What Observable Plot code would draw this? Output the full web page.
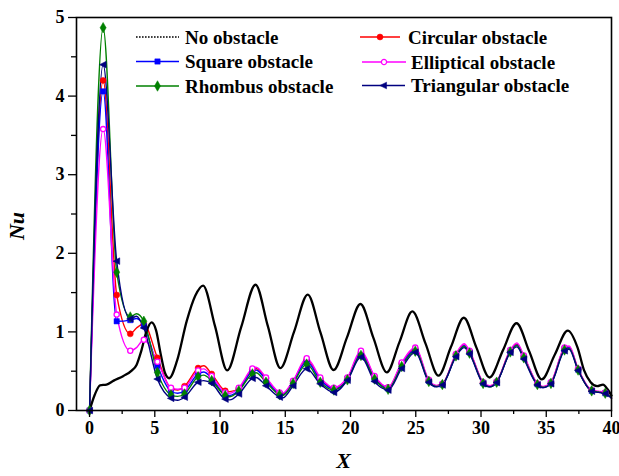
<!DOCTYPE html>
<html><head><meta charset="utf-8">
<script src="https://cdn.jsdelivr.net/npm/d3@7"></script>
<script src="https://cdn.jsdelivr.net/npm/@observablehq/plot@0.6"></script>
<style>body{margin:0;background:#fff}</style>
</head><body><div id="chart"></div>
<script>
// X positions for obstacle curves (markers + a few extrema between markers)
const colX = [0,1.04,2.08,3.12,3.6,4.16,5.2,6.24,6.75,7.28,8.32,8.75,9.36,10.4,10.75,11.44,12.48,12.75,13.52,14.56,14.8,15.6,16.64,17.68,18.72,19.76,20.8,21.84,22.88,23.92,24.96,26.0,26.6,27.04,28.08,28.7,29.12,30.16,30.65,31.2,32.24,32.75,33.28,34.32,34.75,35.36,36.4,36.75,37.44,38.48,39.0,39.52,40];
// X positions where markers are drawn
const markerX = [0,1.04,2.08,3.12,4.16,5.2,6.24,7.28,8.32,9.36,10.4,11.44,12.48,13.52,14.56,15.6,16.64,17.68,18.72,19.76,20.8,21.84,22.88,23.92,24.96,26.0,27.04,28.08,29.12,30.16,31.2,32.24,33.28,34.32,35.36,36.4,37.44,38.48,39.52];

const circularY   = [0,4.20,1.47,0.975,1.05,1.10,0.67,0.28,0.26,0.31,0.54,0.57,0.465,0.25,0.24,0.28,0.52,0.535,0.41,0.22,0.21,0.37,0.65,0.40,0.28,0.41,0.74,0.43,0.29,0.595,0.785,0.38,0.315,0.335,0.71,0.835,0.75,0.355,0.31,0.365,0.76,0.845,0.69,0.34,0.30,0.355,0.79,0.81,0.525,0.255,0.24,0.225,0.16];
const squareY     = [0,4.06,1.135,1.15,1.17,1.08,0.57,0.245,0.22,0.25,0.465,0.49,0.41,0.20,0.19,0.26,0.50,0.515,0.39,0.21,0.20,0.36,0.62,0.39,0.27,0.40,0.72,0.41,0.28,0.58,0.77,0.375,0.31,0.33,0.70,0.825,0.74,0.35,0.305,0.36,0.75,0.835,0.68,0.335,0.295,0.35,0.78,0.80,0.52,0.25,0.235,0.22,0.16];
const ellipticalY = [0,3.58,1.22,0.76,0.80,0.90,0.62,0.29,0.27,0.29,0.51,0.53,0.44,0.23,0.22,0.29,0.535,0.55,0.42,0.23,0.22,0.38,0.665,0.42,0.29,0.42,0.76,0.44,0.295,0.61,0.80,0.39,0.32,0.34,0.72,0.85,0.76,0.36,0.315,0.37,0.77,0.86,0.70,0.345,0.305,0.36,0.80,0.82,0.53,0.26,0.245,0.23,0.16];
const rhombusY    = [0,4.87,1.76,1.19,1.23,1.135,0.485,0.20,0.18,0.21,0.43,0.45,0.38,0.19,0.175,0.25,0.465,0.48,0.36,0.20,0.19,0.345,0.59,0.36,0.26,0.39,0.70,0.40,0.27,0.56,0.755,0.37,0.305,0.33,0.695,0.815,0.73,0.345,0.30,0.36,0.745,0.825,0.67,0.33,0.295,0.345,0.77,0.79,0.515,0.25,0.235,0.22,0.16];
const triangularY = [0,4.40,1.90,1.165,1.20,1.05,0.40,0.155,0.13,0.17,0.36,0.38,0.345,0.145,0.135,0.21,0.41,0.42,0.315,0.17,0.16,0.315,0.53,0.34,0.23,0.385,0.68,0.37,0.26,0.535,0.74,0.36,0.30,0.325,0.685,0.80,0.72,0.34,0.30,0.355,0.74,0.81,0.655,0.325,0.29,0.34,0.76,0.78,0.51,0.245,0.23,0.215,0.155];

// No obstacle curve
const blackX = [0,0.4,0.8,1.3,1.85,2.6,3.25,3.6,3.95,4.35,4.75,5.1,5.45,5.8,6.1,6.7,7.45,8.1,8.7,9.62,10.55,11.62,12.72,13.67,14.62,15.67,16.72,17.7,18.7,19.73,20.76,21.76,22.78,23.75,24.74,25.75,26.74,27.7,28.68,29.65,30.65,31.68,32.72,33.7,34.65,35.65,36.65,37.4,37.9,38.4,38.9,39.35,39.7,40];
const blackY = [0,0.2,0.32,0.33,0.38,0.44,0.51,0.58,0.75,1.0,1.12,1.02,0.72,0.47,0.41,0.63,1.14,1.46,1.59,1.07,0.51,1.06,1.60,1.07,0.54,1.0,1.475,0.99,0.515,0.93,1.355,0.92,0.486,0.87,1.26,0.85,0.443,0.81,1.18,0.80,0.42,0.765,1.11,0.75,0.395,0.71,1.017,0.80,0.51,0.36,0.31,0.33,0.27,0.19];

const xMajor = [0,5,10,15,20,25,30,35,40];
const xMinor = [2.5,7.5,12.5,17.5,22.5,27.5,32.5,37.5];
const yMajor = [0,1,2,3,4,5];
const yMinor = [0.5,1.5,2.5,3.5,4.5];

const leftTri = {draw(ctx, size){ const s = Math.sqrt(size)*1.15; ctx.moveTo(-s*0.6,0); ctx.lineTo(s*0.5,-s*0.55); ctx.lineTo(s*0.5,s*0.55); ctx.closePath(); }};

const seriesDefs = [
  {name:"Circular obstacle",   ys: circularY,   color:"#ff0000", symbol:"circle",  fill:"#ff0000", r:3},
  {name:"Square obstacle",     ys: squareY,     color:"#0000ff", symbol:"square",  fill:"#0000ff", r:3},
  {name:"Elliptical obstacle", ys: ellipticalY, color:"#ff00ff", symbol:"circle",  fill:"#ffffff", r:2.6},
  {name:"Rhombus obstacle",    ys: rhombusY,    color:"#008000", symbol:"diamond", fill:"#008000", r:3.2},
  {name:"Triangular obstacle", ys: triangularY, color:"#000080", symbol:leftTri,   fill:"#000080", r:3}
];

const isMarker = x => markerX.some(m => Math.abs(m - x) < 1e-9);
const marks = [];
const black = blackX.map((x,i)=>({x, y: blackY[i]}));
for (const s of seriesDefs) {
  const rows = colX.map((x,i)=>({x, y: s.ys[i]}));
  marks.push(Plot.line(rows, {x:"x", y:"y", stroke: s.color, strokeWidth: 1.4, curve:"monotone-x"}));
}
marks.push(Plot.line(black, {x:"x", y:"y", stroke:"#000", strokeWidth: 2.3, curve:"monotone-x"}));
for (const s of seriesDefs) {
  const rows = colX.map((x,i)=>({x, y: s.ys[i]})).filter(d => isMarker(d.x));
  marks.push(Plot.dot(rows, {x:"x", y:"y", symbol: s.symbol, r: s.r, fill: s.fill, stroke: s.color, strokeWidth: s.fill === "#ffffff" ? 1.3 : 0.5}));
}

const svg = Plot.plot({
  width: 619, height: 476,
  marginLeft: 76, marginRight: 8, marginTop: 17, marginBottom: 66,
  x: {domain: [-1, 40]},
  y: {domain: [0, 5]},
  style: {fontFamily: "'Liberation Serif', 'Times New Roman', serif", fontSize: "18px", fontWeight: "bold", background: "#fff", color: "#000"},
  marks: [
    ...marks,
    Plot.axisX({ticks: xMajor, tickFormat: d3.format("d"), tickSize: 7, tickPadding: 4, label: null, strokeWidth: 1.3}),
    Plot.axisX({ticks: xMinor, tickSize: 4, text: null, label: null, strokeWidth: 1.3}),
    Plot.axisY({ticks: yMajor, tickFormat: d3.format("d"), tickSize: 8, tickPadding: 4, label: null, strokeWidth: 1.3}),
    Plot.axisY({ticks: yMinor, tickSize: 5, text: null, label: null, strokeWidth: 1.3}),
    Plot.frame({stroke: "#000", strokeWidth: 1.6})
  ]
});

const g = d3.select(svg);
// axis titles
g.append("text").attr("x", 343.5).attr("y", 463).attr("text-anchor","middle").attr("dominant-baseline","middle")
  .attr("font-family","'Liberation Serif', serif").attr("font-size", 22).attr("font-weight","bold").attr("font-style","italic").text("X");
g.append("text").attr("transform","translate(19,226) rotate(-90)").attr("text-anchor","middle").attr("dominant-baseline","middle")
  .attr("font-family","'Liberation Serif', serif").attr("font-size", 22).attr("font-weight","bold").attr("font-style","italic").text("Nu");

// legend
const legend = [
  {name:"No obstacle", color:"#000", dotted:true, x1:136, x2:179, tx:185, y:37},
  {def: seriesDefs[0], x1:360, x2:400, tx:408, y:37},
  {def: seriesDefs[1], x1:136, x2:179, tx:185, y:61.5},
  {def: seriesDefs[2], x1:362, x2:406, tx:411, y:62},
  {def: seriesDefs[3], x1:136, x2:179, tx:185, y:86},
  {def: seriesDefs[4], x1:362, x2:405, tx:411, y:85.5}
];
const lg = g.append("g").attr("font-family","'Liberation Serif', serif").attr("font-size",19).attr("font-weight","bold").attr("text-anchor","start");
for (const L of legend) {
  const color = L.def ? L.def.color : L.color;
  const line = lg.append("line").attr("x1",L.x1).attr("x2",L.x2).attr("y1",L.y).attr("y2",L.y).attr("stroke",color);
  if (L.dotted) line.attr("stroke-width",1.6).attr("stroke-dasharray","1.6,1.4");
  else line.attr("stroke-width",1.4);
  if (L.def) {
    const d = L.def;
    const type = d.symbol === "circle" ? d3.symbolCircle : d.symbol === "square" ? d3.symbolSquare : d.symbol === "diamond" ? d3.symbolDiamond : d.symbol;
    lg.append("path").attr("d", d3.symbol(type, Math.PI*d.r*d.r)())
      .attr("transform",`translate(${(L.x1+L.x2)/2},${L.y})`)
      .attr("fill", d.fill).attr("stroke", d.color).attr("stroke-width", d.fill === "#ffffff" ? 1.3 : 0.5);
  }
  lg.append("text").attr("x",L.tx).attr("y",L.y).attr("dy","0.35em").attr("text-anchor","start").attr("fill","#000").text(L.def ? L.def.name : L.name);
}

document.getElementById("chart").appendChild(svg);
</script>
</body></html>
